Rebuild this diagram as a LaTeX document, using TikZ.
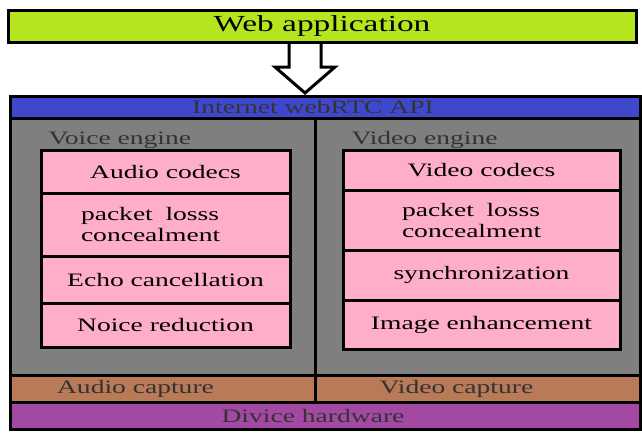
\documentclass[tikz,border=0pt]{standalone}
\usepackage{fontspec}
\setmainfont{Liberation Serif}[FakeStretch=1.45]
\usetikzlibrary{positioning}
\definecolor{applime}{RGB}{181,230,29}
\definecolor{apiblue}{RGB}{63,72,204}
\definecolor{enggray}{RGB}{127,127,127}
\definecolor{cellpink}{RGB}{255,174,201}
\definecolor{capbrown}{RGB}{185,122,87}
\definecolor{hwpurple}{RGB}{163,73,164}
\tikzset{
	layer/.style={draw=black, line width=3pt, outer sep=0pt, inner sep=0pt, rectangle},
	cell/.style={layer, fill=cellpink, minimum width=#1, font=\fontsize{19}{21}\selectfont},
	engine/.style={layer, fill=enggray, minimum height=257pt},
	capture/.style={layer, fill=capbrown, minimum height=27pt},
	dimtext/.style={text=black!80, font=\fontsize{19}{21}\selectfont},
	hollow/.style={draw=black, fill=white, line width=3pt, line join=miter}
}

\begin{document}
\begin{tikzpicture}[x=1pt, y=-1pt]
	\useasboundingbox (0,0) rectangle (642,432);

	% api bar and the two engines
	\node[layer, fill=apiblue, minimum width=630pt, minimum height=22pt,
		label={[dimtext, xshift=-12pt]center:Internet webRTC API}] (api) at (325,107) {};
	\node[engine, minimum width=305pt, anchor=north west] (voice) at (10,118) {};
	\node[engine, minimum width=325pt, anchor=north west] (video) at (315,118) {};
	\node[dimtext, anchor=west] (voicelbl) at (45,140) {Voice engine};
	\node[dimtext, anchor=west] (videolbl) at (348,140) {Video engine};

	% voice engine stack
	\node[cell=249pt, minimum height=43pt, anchor=north] (acod) at (165.5,150) {Audio codecs};
	\node[cell=249pt, minimum height=63pt, below=0pt of acod, align=left,
		text width=169pt, inner xsep=40pt] (aplc) {packet\ \ losss\\concealment};
	\node[cell=249pt, minimum height=47pt, below=0pt of aplc] (aecho) {Echo cancellation};
	\node[cell=249pt, minimum height=44pt, below=0pt of aecho] (anoise) {Noice reduction};

	% video engine stack
	\node[cell=277pt, minimum height=40pt, anchor=north] (vcod) at (481.5,150) {Video codecs};
	\node[cell=277pt, minimum height=60pt, below=0pt of vcod, align=left,
		text width=159pt, inner xsep=59pt] (vplc) {packet\ \ losss\\concealment};
	\node[cell=277pt, minimum height=50pt, below=0pt of vplc] (vsync) {synchronization};
	\node[cell=277pt, minimum height=49pt, below=0pt of vsync] (vimg) {Image enhancement};

	% capture and hardware
	\node[capture, minimum width=305pt, below=0pt of voice,
		label={[dimtext, xshift=-27pt]center:Audio capture}] (audiocap) {};
	\node[capture, minimum width=325pt, below=0pt of video,
		label={[dimtext, xshift=-21pt]center:Video capture}] (videocap) {};
	\node[layer, fill=hwpurple, minimum width=630pt, minimum height=27pt, anchor=north west,
		label={[dimtext, xshift=-12pt]center:Divice hardware}] (hw) at (audiocap.south west) {};

	% hollow arrow down to the api
	\coordinate (tip) at (305,93);
	\draw[hollow] (289,42) -- (289,67) -- (275,67) -- (tip) -- (335,67) -- (321,67) -- (321,42);

	\node[layer, fill=applime, minimum width=628pt, minimum height=32pt,
		font=\fontsize{23}{25}\selectfont] (web) at (322,26) {Web application};

\end{tikzpicture}
\end{document}
